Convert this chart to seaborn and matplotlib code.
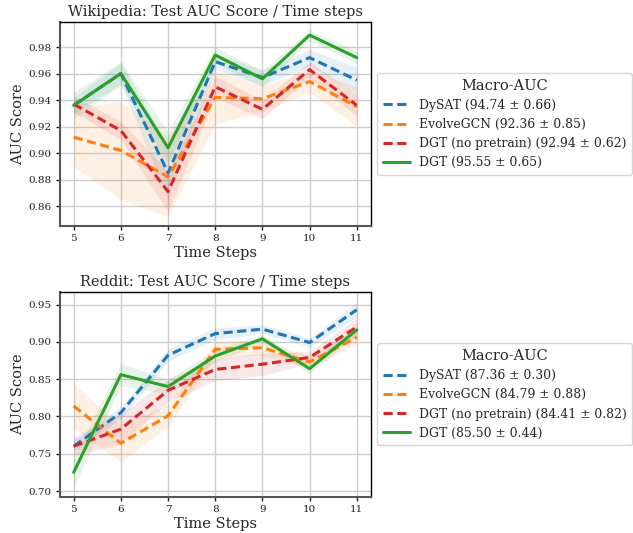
import numpy as np
import pandas as pd
import seaborn as sns
import matplotlib.pyplot as plt

steps = [5, 6, 7, 8, 9, 10, 11]
methods = ['DySAT', 'EvolveGCN', 'DGT (no pretrain)', 'DGT']

wiki_labels = ['DySAT (94.74 ± 0.66)', 'EvolveGCN (92.36 ± 0.85)',
               'DGT (no pretrain) (92.94 ± 0.62)', 'DGT (95.55 ± 0.65)']
wiki_dysat = [0.936, 0.960, 0.885, 0.969, 0.957, 0.972, 0.955]
wiki_evolve = [0.912, 0.902, 0.882, 0.942, 0.941, 0.954, 0.935]
wiki_nopre = [0.937, 0.917, 0.871, 0.950, 0.933, 0.963, 0.936]
wiki_dgt = [0.936, 0.960, 0.904, 0.974, 0.956, 0.989, 0.972]
wiki_dysat_sd = [0.006, 0.008, 0.020, 0.006, 0.006, 0.006, 0.010]
wiki_evolve_sd = [0.022, 0.037, 0.030, 0.020, 0.010, 0.008, 0.015]
wiki_nopre_sd = [0.006, 0.007, 0.015, 0.008, 0.007, 0.006, 0.008]
wiki_dgt_sd = [0.010, 0.009, 0.012, 0.006, 0.006, 0.004, 0.005]

reddit_labels = ['DySAT (87.36 ± 0.30)', 'EvolveGCN (84.79 ± 0.88)',
                 'DGT (no pretrain) (84.41 ± 0.82)', 'DGT (85.50 ± 0.44)']
reddit_dysat = [0.760, 0.805, 0.882, 0.911, 0.917, 0.899, 0.943]
reddit_evolve = [0.814, 0.764, 0.801, 0.890, 0.892, 0.873, 0.906]
reddit_nopre = [0.760, 0.783, 0.835, 0.863, 0.870, 0.879, 0.920]
reddit_dgt = [0.725, 0.856, 0.840, 0.881, 0.904, 0.864, 0.916]
reddit_dysat_sd = [0.008, 0.008, 0.008, 0.008, 0.006, 0.006, 0.010]
reddit_evolve_sd = [0.030, 0.025, 0.015, 0.010, 0.010, 0.008, 0.010]
reddit_nopre_sd = [0.012, 0.020, 0.015, 0.015, 0.015, 0.008, 0.012]
reddit_dgt_sd = [0.020, 0.015, 0.010, 0.008, 0.006, 0.006, 0.008]

colors = ['#1f77b4', '#ff7f0e', '#d62728', '#2ca02c']
dashes = [(3, 1.5), (3, 1.5), (3, 1.5), '']

sns.set_theme(style="whitegrid")
plt.rcParams['font.family'] = ['DejaVu Serif']
plt.rcParams['mathtext.fontset'] = 'dejavuserif'


def make_df(vals, sds):
    rows = []
    for m, v, s in zip(methods, vals, sds):
        for t, y, e in zip(steps, v, s):
            rows.append({'step': t, 'auc': y, 'sd': e, 'method': m})
    return pd.DataFrame(rows)


def draw(ax, df, labels, title, ylim, yticks):
    sns.lineplot(data=df, x='step', y='auc', hue='method', style='method',
                 hue_order=methods, style_order=methods, palette=colors,
                 dashes=dashes, lw=2.2, ax=ax)
    for m, c in zip(methods, colors):
        d = df[df['method'] == m]
        ax.fill_between(d['step'], d['auc'] - d['sd'], d['auc'] + d['sd'],
                        color=c, alpha=0.11, lw=0)
    ax.set_title(title, fontsize=10.5, pad=4)
    ax.set_xlabel('Time Steps', fontsize=10.5, labelpad=2)
    ax.set_ylabel('AUC Score', fontsize=10.5, labelpad=2)
    ax.set_xticks(steps)
    ax.set_ylim(*ylim)
    ax.set_yticks(yticks)
    ax.tick_params(labelsize=7.5, length=3, width=1, colors='#222222',
                   left=True, bottom=True, pad=3)
    ax.grid(color='#cccccc', lw=1)
    for s in ['top', 'right']:
        ax.spines[s].set_color('black')
        ax.spines[s].set_linewidth(1)
    for s in ['left', 'bottom']:
        ax.spines[s].set_color('#555555')
        ax.spines[s].set_linewidth(1.5)
    handles, _ = ax.get_legend_handles_labels()
    ax.legend(handles, labels, title='Macro-AUC', fontsize=8.9,
              title_fontsize=10.5, loc='center left', bbox_to_anchor=(1.02, 0.5),
              frameon=True, edgecolor='#cccccc', handlelength=2.2,
              borderaxespad=0, labelspacing=0.5, borderpad=0.45,
              handletextpad=0.7)


fig = plt.figure(figsize=(6.33, 5.33), dpi=100)
ax1 = fig.add_axes([0.094, 0.576, 0.492, 0.383])
ax2 = fig.add_axes([0.094, 0.0675, 0.492, 0.385])

draw(ax1, make_df([wiki_dysat, wiki_evolve, wiki_nopre, wiki_dgt],
                  [wiki_dysat_sd, wiki_evolve_sd, wiki_nopre_sd, wiki_dgt_sd]),
     wiki_labels, 'Wikipedia: Test AUC Score / Time steps',
     (0.845, 0.999), [0.86, 0.88, 0.90, 0.92, 0.94, 0.96, 0.98])
draw(ax2, make_df([reddit_dysat, reddit_evolve, reddit_nopre, reddit_dgt],
                  [reddit_dysat_sd, reddit_evolve_sd, reddit_nopre_sd, reddit_dgt_sd]),
     reddit_labels, 'Reddit: Test AUC Score / Time steps',
     (0.692, 0.967), [0.70, 0.75, 0.80, 0.85, 0.90, 0.95])

fig.savefig('out.png', dpi=100)
